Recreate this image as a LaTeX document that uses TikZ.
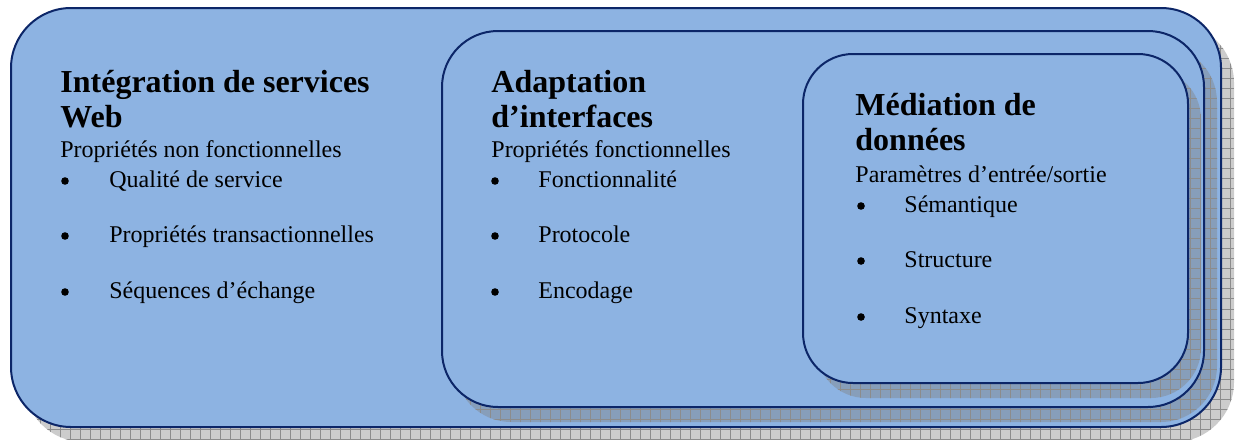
\documentclass[tikz,border=0pt]{standalone}
\usepackage{fontspec}
\setmainfont{Liberation Serif}
\usetikzlibrary{patterns.meta}

\definecolor{boxfill}{RGB}{141,179,226}
\definecolor{boxline}{RGB}{12,38,104}

\begin{document}
\begin{tikzpicture}[x=0.5pt,y=-0.5pt,
    box/.style={fill=boxfill,draw=boxline,line width=1pt},
    boxshadow/.style={fill=black!50,fill opacity=0.4,
      postaction={fill opacity=0.5,pattern={Hatch[distance=5pt,angle=0,line width=0.5pt]},pattern color=black!45}},
    head/.style={anchor=base west,inner sep=0pt,font=\fontsize{16}{19}\selectfont\bfseries},
    txt/.style={anchor=base west,inner sep=0pt,font=\fontsize{12}{14}\selectfont},
    dot/.style={circle,fill=black,inner sep=0pt,minimum size=3.8pt}]
  \useasboundingbox (0,0) rectangle (1235,439);

  % shadow offset (px)
  \def\sx{13}
  \def\sy{15}

  % outer box: web services
  \path[boxshadow,shift={(\sx,\sy)},rounded corners=30pt] (11,8) rectangle (1221,427);
  \draw[box,rounded corners=30pt] (11,8) rectangle (1221,427);

  % middle box: interfaces
  \path[boxshadow,shift={(\sx,\sy)},rounded corners=28pt] (442,31) rectangle (1204,407);
  \draw[box,rounded corners=28pt] (442,31) rectangle (1204,407);

  % inner box: data
  \path[boxshadow,shift={(\sx,\sy)},rounded corners=25pt] (803,54) rectangle (1188,383);
  \draw[box,rounded corners=25pt] (803,54) rectangle (1188,383);

  % first column
  \node[head] (web1) at (60,92) {Intégration de services};
  \node[head] (web2) at (60,127) {Web};
  \node[txt] (websub) at (60,157) {Propriétés non fonctionnelles};
  \foreach \y/\t [count=\i] in {187/Qualité de service,242/Propriétés transactionnelles,298/Séquences d’échange}{
    \node[dot] (webdot\i) at (65,\y-6) {};
    \node[txt] (webitem\i) at (109,\y) {\t};
  }

  % second column
  \node[head] (itf1) at (491,92) {Adaptation};
  \node[head] (itf2) at (491,127) {d’interfaces};
  \node[txt] (itfsub) at (491,157) {Propriétés fonctionnelles};
  \foreach \y/\t [count=\i] in {187/Fonctionnalité,242/Protocole,298/Encodage}{
    \node[dot] (itfdot\i) at (495,\y-6) {};
    \node[txt] (itfitem\i) at (538,\y) {\t};
  }

  % third column
  \node[head] (dat1) at (855,115) {Médiation de};
  \node[head] (dat2) at (855,150) {données};
  \node[txt] (datsub) at (855,182) {Paramètres d’entrée/sortie};
  \foreach \y/\t [count=\i] in {212/Sémantique,267/Structure,323/Syntaxe}{
    \node[dot] (datdot\i) at (861,\y-6) {};
    \node[txt] (datitem\i) at (904,\y) {\t};
  }
\end{tikzpicture}
\end{document}
